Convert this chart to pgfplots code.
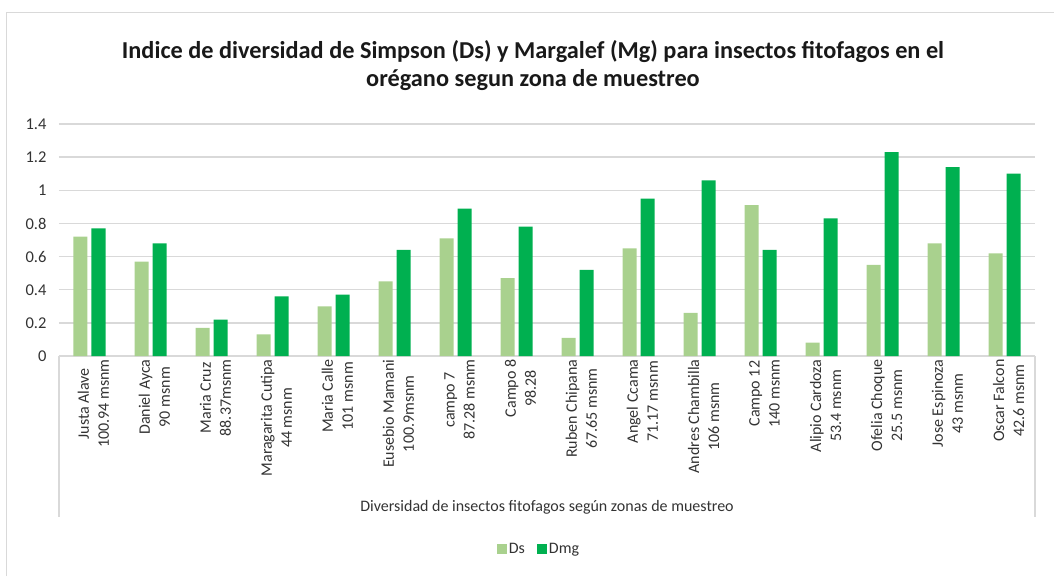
\documentclass[border=0pt]{standalone}
\usepackage{pgfplots}
\pgfplotsset{compat=1.18}
\usepackage{fontspec}
\setmainfont{Carlito}
\definecolor{dsgreen}{HTML}{A9D18E}
\definecolor{dmggreen}{HTML}{00B050}
\definecolor{gridgray}{HTML}{D9D9D9}
\definecolor{txt}{HTML}{333333}
\begin{document}
\begin{tikzpicture}
\useasboundingbox (0,0) rectangle (1054pt,576pt);
\draw[gridgray, line width=1.5pt] (6.5pt,0) -- (6.5pt,563.5pt) -- (1054pt,563.5pt);
\begin{axis}[
  at={(59pt,220pt)}, anchor=south west,
  scale only axis, width=976pt, height=232pt,
  ybar=4pt, bar width=14pt,
  ymin=0, ymax=1.4, ytick={0,0.2,...,1.4},
  xmin=-0.5, xmax=15.5,
  xtick={0,...,15},
  xticklabels={{Justa Alave\\100.94 msnm},{Daniel Ayca\\90 msnm},{Maria Cruz\\88.37msnm},{Maragarita Cutipa\\44 msnm},{Maria Calle\\101 msnm},{Eusebio Mamani\\100.9msnm},{campo 7\\87.28 msnm},{Campo 8\\98.28},{Ruben Chipana\\67.65 msnm},{Angel Ccama\\71.17 msnm},{Andres Chambilla\\106 msnm},{Campo 12\\140 msnm},{Alipio Cardoza\\53.4 msnm},{Ofelia Choque\\25.5 msnm},{Jose Espinoza\\43 msnm},{Oscar Falcon\\42.6 msnm}},
  xticklabel style={rotate=90, anchor=east, align=center, font=\fontsize{16}{20}\selectfont, text=txt, yshift=-4pt},
  yticklabel style={font=\fontsize{16.5}{19}\selectfont, text=txt, xshift=-9pt},
  /pgf/number format/assume math mode=true,
  major tick length=0pt,
  tick style={draw=none},
  axis x line*=bottom, axis y line*=left,
  y axis line style={draw=none},
  x axis line style={-, draw=gridgray, line width=1.5pt},
  ymajorgrids, major grid style={draw=gridgray, line width=1.3pt},
  xlabel={Diversidad de insectos fitofagos según zonas de muestreo},
  xlabel style={at={(axis description cs:0.5,0)}, anchor=center, yshift=-151pt, font=\fontsize{16}{19}\selectfont, text=txt},
  title={Indice de diversidad de Simpson (Ds) y Margalef (Mg) para insectos fitofagos en el\\orégano segun zona de muestreo},
  title style={at={(axis description cs:0.5,1)}, anchor=center, yshift=52pt, xshift=-14pt, align=center, font=\fontsize{24.3}{28}\selectfont\bfseries, text=black!90},
  legend style={at={(axis description cs:0.5,0)}, anchor=center, yshift=-193pt, xshift=-8pt, draw=none, legend columns=2, font=\fontsize{16}{19}\selectfont, text=txt, /tikz/every even column/.append style={column sep=10pt}},
  legend image code/.code={\fill[#1] (0pt,-5pt) rectangle (10pt,5pt);},
  clip=false,
]
\addplot[fill=dsgreen, draw=none] coordinates {(0,0.72) (1,0.57) (2,0.17) (3,0.13) (4,0.30) (5,0.45) (6,0.71) (7,0.47) (8,0.11) (9,0.65) (10,0.26) (11,0.91) (12,0.08) (13,0.55) (14,0.68) (15,0.62)};
\addplot[fill=dmggreen, draw=none] coordinates {(0,0.77) (1,0.68) (2,0.22) (3,0.36) (4,0.37) (5,0.64) (6,0.89) (7,0.78) (8,0.52) (9,0.95) (10,1.06) (11,0.64) (12,0.83) (13,1.23) (14,1.14) (15,1.10)};
\legend{Ds,Dmg}
\draw[gridgray, line width=1.5pt] (rel axis cs:0,0) -- ++(0pt,-161pt);
\draw[gridgray, line width=1.5pt] (rel axis cs:1,0) -- ++(0pt,-161pt);
\end{axis}
\end{tikzpicture}
\end{document}
